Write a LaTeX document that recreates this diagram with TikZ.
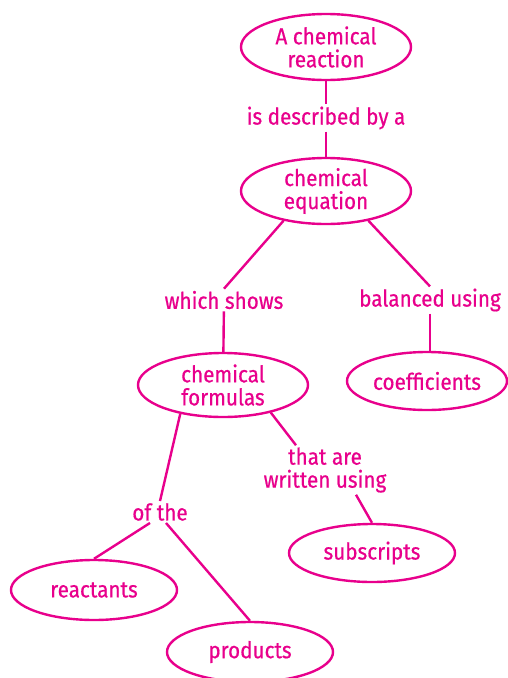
\documentclass[tikz,border=0pt]{standalone}
\usepackage{fontspec}
\setmainfont[FakeStretch=0.9,FakeBold=0.6]{Fira Sans}
\usetikzlibrary{shapes.geometric}
\definecolor{mag}{RGB}{232,0,140}
\begin{document}
\begin{tikzpicture}[x=1pt,y=-1pt,
  every node/.style={text=mag,font=\fontsize{23}{23}\selectfont,align=center},
  concept/.style={ellipse,draw=mag,line width=2.4pt,inner sep=0pt},
  linkw/.style={inner sep=2pt},
  conn/.style={draw=mag,line width=2.4pt}]
\useasboundingbox (0,0) rectangle (507,678);
\node[concept,minimum width=170,minimum height=66] (react) at (326,47) {A chemical\\reaction};
\node[linkw] (desc) at (326,118) {is described by a};
\node[concept,minimum width=170,minimum height=66] (eq) at (326,191) {chemical\\equation};
\node[linkw] (shows) at (224,300) {which shows};
\node[linkw] (bal) at (430,300) {balanced using};
\node[concept,minimum width=170,minimum height=64] (form) at (223,385) {chemical\\formulas};
\node[concept,minimum width=160,minimum height=58] (coef) at (427,381) {coefficients};
\node[linkw] (that) at (325,470) {that are\\written using};
\node[linkw] (ofthe) at (160,512) {of the};
\node[concept,minimum width=166,minimum height=58] (sub) at (372,553) {subscripts};
\node[concept,minimum width=166,minimum height=60] (reac) at (94,590) {reactants};
\node[concept,minimum width=166,minimum height=60] (prod) at (250,652) {products};
\draw[conn] (react) -- (desc);
\draw[conn] (desc) -- (eq);
\draw[conn] (eq.-145) -- (shows.north);
\draw[conn] (shows) -- (form);
\draw[conn] (eq.-35) -- (bal.north);
\draw[conn] (bal.south) -- (bal.south |- coef.north);
\draw[conn] (form.-30) -- ([xshift=-29pt]that.north);
\draw[conn] ([xshift=31pt]that.south) -- (sub.north);
\draw[conn] (form.-146) -- (ofthe.north);
\draw[conn] ([xshift=-10pt]ofthe.south) -- (reac.north);
\draw[conn] ([xshift=6pt]ofthe.south) -- (prod.north);
\end{tikzpicture}
\end{document}
